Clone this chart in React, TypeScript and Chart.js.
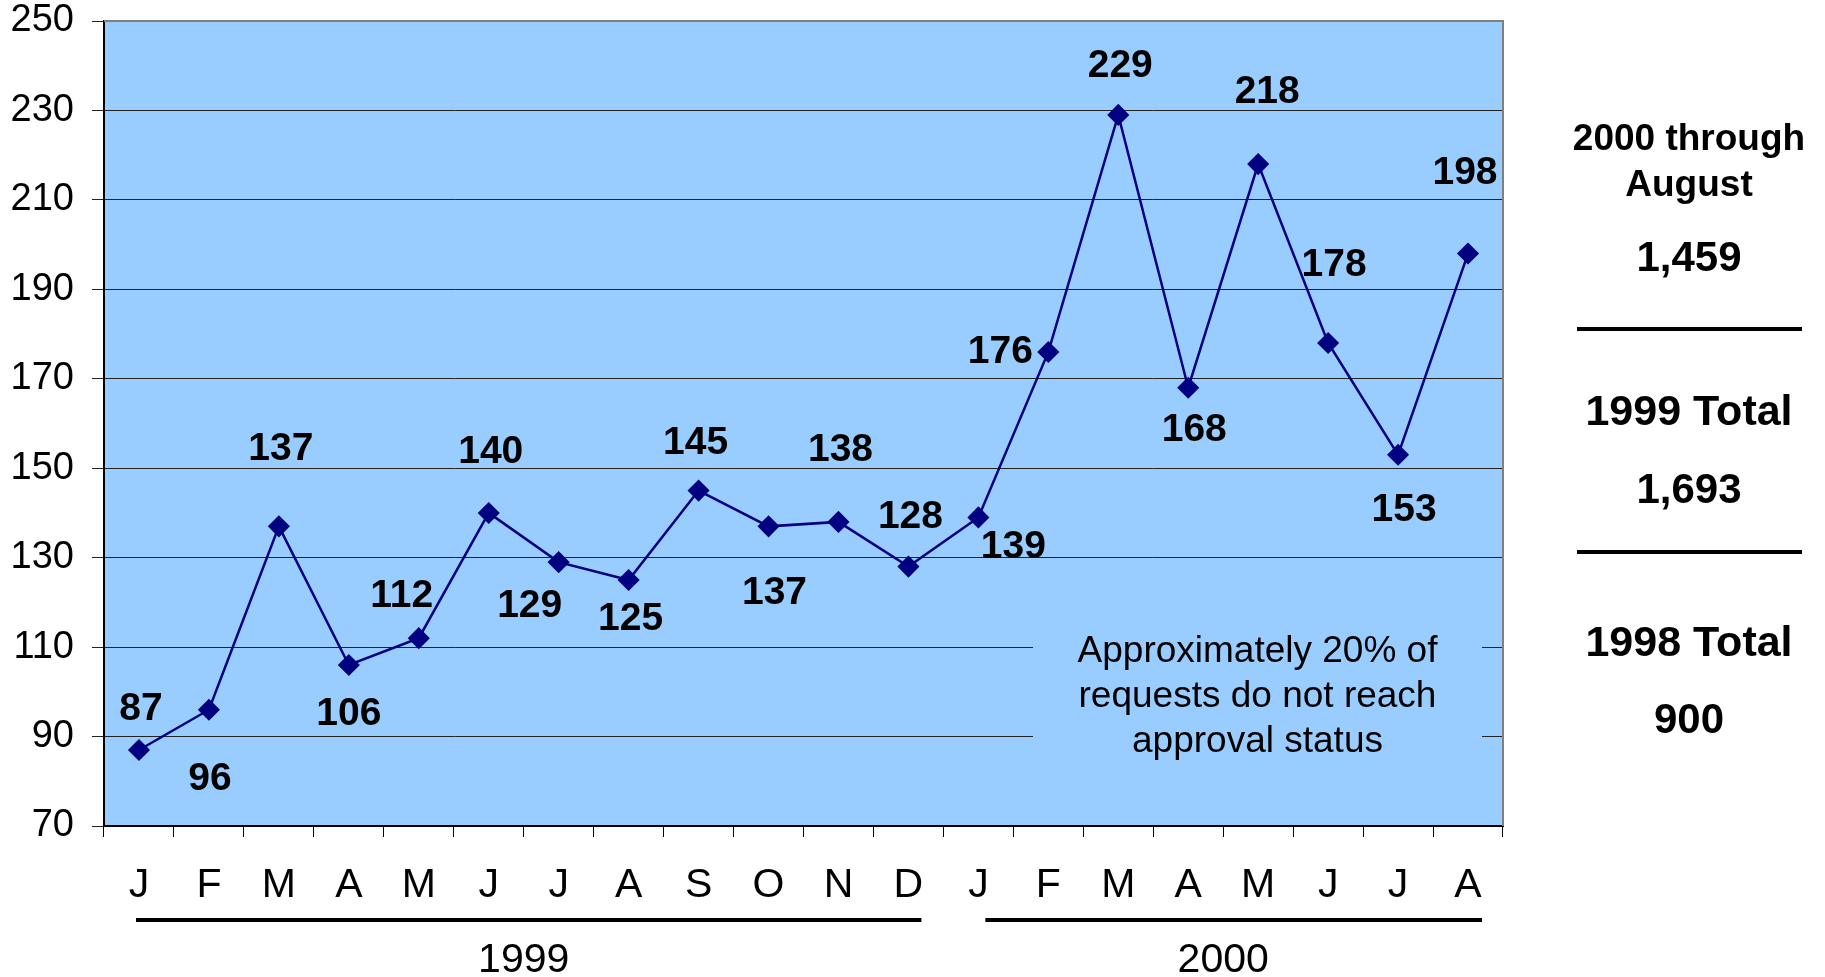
import React, { useEffect, useRef } from 'react';
import { Chart, registerables } from 'chart.js';

Chart.register(...registerables);

// ---- data ----
const months = ['J', 'F', 'M', 'A', 'M', 'J', 'J', 'A', 'S', 'O', 'N', 'D', 'J', 'F', 'M', 'A', 'M', 'J', 'J', 'A'];
const requests = [87, 96, 137, 106, 112, 140, 129, 125, 145, 137, 138, 128, 139, 176, 229, 168, 218, 178, 153, 198];
const yMin = 70;
const yMax = 250;
const yStep = 20;
const yearNames = ['1999', '2000'];
const yearFirstIndex = [0, 12];
const yearLastIndex = [11, 19];
const summaryHeadings = [['2000 through', 'August'], ['1999 Total'], ['1998 Total']];
const summaryValues = ['1,459', '1,693', '900'];
const noteLines = ['Approximately 20% of', 'requests do not reach', 'approval status'];

// label placement relative to each point (styling, not data)
const labelOffsets: [number, number][] = [
  [2, -43], [1, 68], [2, -79], [0, 47], [-17, -44], [2, -63], [-29, 42], [2, 37], [-3, -49], [6, 65],
  [2, -74], [2, -51], [35, 28], [-48, -2], [2, -51], [6, 41], [9, -74], [6, -80], [6, 53], [-3, -82],
];

const FONT = '"Liberation Sans", Arial, Helvetica, sans-serif';

export default function App() {
  const ref = useRef<HTMLCanvasElement>(null);

  useEffect(() => {
    const canvas = ref.current;
    if (!canvas) return;

    const decor = {
      id: 'decor',
      beforeDraw(chart: any) {
        const { ctx, chartArea: a } = chart;
        ctx.save();
        ctx.fillStyle = '#fff';
        ctx.fillRect(0, 0, chart.width, chart.height);
        ctx.fillStyle = '#99CCFF';
        ctx.fillRect(a.left, a.top, a.right - a.left, a.bottom - a.top);
        ctx.restore();
      },
      beforeDatasetsDraw(chart: any) {
        const { ctx, chartArea: a } = chart;
        ctx.save();
        // note box covering gridlines
        const bx0 = a.left + 929;
        const bx1 = a.right - 21;
        ctx.fillStyle = '#99CCFF';
        ctx.fillRect(bx0, 612, bx1 - bx0, 173);
        ctx.fillStyle = '#000';
        ctx.font = `37px ${FONT}`;
        ctx.textAlign = 'center';
        ctx.textBaseline = 'alphabetic';
        const cx = (bx0 + bx1) / 2;
        noteLines.forEach((t, i) => ctx.fillText(t, cx, 662 + i * 45));
        // gray top/right frame
        ctx.strokeStyle = '#808080';
        ctx.lineWidth = 2;
        ctx.beginPath();
        ctx.moveTo(a.left, a.top);
        ctx.lineTo(a.right, a.top);
        ctx.lineTo(a.right, a.bottom);
        ctx.stroke();
        ctx.restore();
      },
      afterDatasetsDraw(chart: any) {
        const { ctx } = chart;
        const meta = chart.getDatasetMeta(0);
        ctx.save();
        ctx.fillStyle = '#000';
        ctx.font = `bold 39px ${FONT}`;
        ctx.textAlign = 'center';
        ctx.textBaseline = 'middle';
        meta.data.forEach((pt: any, i: number) => {
          const [dx, dy] = labelOffsets[i];
          ctx.fillText(String(requests[i]), pt.x + dx, pt.y + dy + 2);
        });
        ctx.restore();
      },
      afterDraw(chart: any) {
        const { ctx } = chart;
        const xs = chart.scales.x;
        ctx.save();
        // year group bars and labels
        const padL = [-3, 7];
        const padR = [13, 14];
        yearNames.forEach((name, g) => {
          const x0 = xs.getPixelForValue(yearFirstIndex[g]);
          const x1 = xs.getPixelForValue(yearLastIndex[g]);
          ctx.fillStyle = '#000';
          ctx.fillRect(x0 + padL[g], 918, x1 + padR[g] - (x0 + padL[g]), 4);
          ctx.font = `41px ${FONT}`;
          ctx.textAlign = 'center';
          ctx.textBaseline = 'alphabetic';
          ctx.fillText(name, (x0 + x1) / 2, 972);
        });
        // right summary panel
        const cx = 1689;
        ctx.textAlign = 'center';
        ctx.textBaseline = 'middle';
        ctx.fillStyle = '#000';
        ctx.font = `bold 37px ${FONT}`;
        ctx.fillText(summaryHeadings[0][0], cx, 140);
        ctx.fillText(summaryHeadings[0][1], cx, 186);
        ctx.font = `bold 42px ${FONT}`;
        ctx.fillText(summaryValues[0], cx, 259);
        ctx.fillRect(1577, 327, 225, 4);
        ctx.font = `bold 43px ${FONT}`;
        ctx.fillText(summaryHeadings[1][0], cx, 413);
        ctx.font = `bold 42px ${FONT}`;
        ctx.fillText(summaryValues[1], cx, 491);
        ctx.fillRect(1577, 550, 225, 4);
        ctx.font = `bold 43px ${FONT}`;
        ctx.fillText(summaryHeadings[2][0], cx, 644);
        ctx.font = `bold 42px ${FONT}`;
        ctx.fillText(summaryValues[2], cx, 721);
        ctx.restore();
      },
    };

    const chart = new Chart(canvas, {
      type: 'line',
      data: {
        labels: months,
        datasets: [
          {
            data: requests,
            borderColor: '#000080',
            backgroundColor: '#000080',
            borderWidth: 2.5,
            tension: 0,
            fill: false,
            pointStyle: 'rectRot',
            pointRadius: 10,
            pointBorderWidth: 1.5,
            pointBackgroundColor: '#000080',
            pointBorderColor: '#000080',
          },
        ],
      },
      options: {
        responsive: false,
        animation: false,
        layout: { padding: { top: 21, right: 322, bottom: 0, left: 0 } },
        plugins: {
          legend: { display: false },
          tooltip: { enabled: false },
          title: { display: false },
        },
        scales: {
          x: {
            type: 'category',
            offset: true,
            grid: {
              offset: true,
              drawOnChartArea: false,
              drawTicks: true,
              tickLength: 11,
              color: '#000',
              lineWidth: 1,
            },
            border: { display: true, color: '#000', width: 2 },
            ticks: {
              color: '#000',
              font: { family: FONT, size: 41 },
              padding: 24,
              maxRotation: 0,
              minRotation: 0,
              autoSkip: false,
            },
            afterFit: (s: any) => {
              s.height = 151;
              s.paddingLeft = 0;
              s.paddingRight = 0;
            },
          },
          y: {
            min: yMin,
            max: yMax,
            ticks: {
              stepSize: yStep,
              color: '#000',
              font: { family: FONT, size: 38 },
              padding: 18,
            },
            grid: {
              color: '#222',
              lineWidth: 1,
              tickLength: 12,
              drawTicks: true,
            },
            border: { display: true, color: '#000', width: 2 },
            afterFit: (s: any) => {
              s.width = 104;
              s.paddingTop = 0;
              s.paddingBottom = 0;
            },
          },
        },
      } as any,
      plugins: [decor],
    });

    return () => chart.destroy();
  }, []);

  return (
    <div style={{ position: 'absolute', left: 0, top: 0, width: 1825, height: 977, background: '#fff' }}>
      <canvas ref={ref} width={1825} height={977} style={{ display: 'block', width: 1825, height: 977 }} />
    </div>
  );
}
